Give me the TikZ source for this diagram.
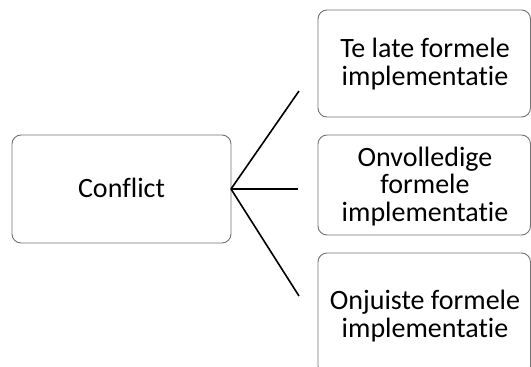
\documentclass[tikz,border=0pt]{standalone}
\usepackage{fontspec}
\setmainfont{Carlito}[Ligatures=NoCommon, RawFeature={-calt;-liga;-clig}]
\begin{document}
\begin{tikzpicture}[x=1pt,y=-1pt,
  box/.style={draw=black!55, line width=0.9pt, rounded corners=9pt, fill=white},
  txt/.style={align=center, font=\fontsize{28}{27.7}\selectfont, inner sep=0pt, anchor=base},
  link/.style={draw=black, line width=1.6pt}]
\useasboundingbox (0,0) rectangle (531,367);
\begin{scope}
\clip (0,0) rectangle (531,367);
\draw[box] (12,135) rectangle (231,243);
\node[txt] (c) at (121.5,197) {Conflict};
\coordinate (src) at (231,189);
\draw[box] (318,10) rectangle (530.5,117);
\node[txt] (a) at (425,85) {Te late formele\\implementatie};
\draw[box] (318,135) rectangle (530.5,235);
\node[txt] (b) at (425,221.5) {Onvolledige\\formele\\implementatie};
\draw[box] (318,253) rectangle (530.5,375);
\node[txt] (d) at (425,337) {Onjuiste formele\\implementatie};
\coordinate (ea) at (299,91);
\coordinate (eb) at (298,189);
\coordinate (ed) at (299,296);
\draw[link] (src) -- (ea);
\draw[link] (src) -- (eb);
\draw[link] (src) -- (ed);
\end{scope}
\end{tikzpicture}
\end{document}
